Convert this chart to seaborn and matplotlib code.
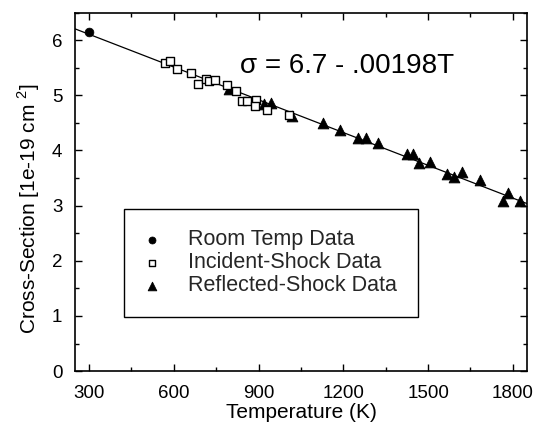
import matplotlib
matplotlib.use("Agg")
import matplotlib.pyplot as plt
import seaborn as sns
import pandas as pd
from matplotlib.ticker import MultipleLocator

# ---- data ----
room_T = [300]
room_sigma = [6.15]

incident_T = [570, 585, 613, 660, 685, 713, 726, 745, 787, 819, 842, 858, 892, 889, 929, 1007]
incident_sigma = [5.58, 5.62, 5.47, 5.41, 5.21, 5.30, 5.25, 5.28, 5.18, 5.07, 4.89, 4.90, 4.92, 4.80, 4.73, 4.64]

reflected_T = [794, 919, 943, 1019, 1128, 1189, 1252, 1282, 1323, 1425, 1448, 1469, 1508,
               1566, 1593, 1621, 1682, 1765, 1782, 1826]
reflected_sigma = [5.12, 4.85, 4.86, 4.62, 4.50, 4.37, 4.22, 4.22, 4.14, 3.93, 3.93, 3.77, 3.79,
                   3.58, 3.51, 3.61, 3.46, 3.09, 3.23, 3.09]

fit_T = [250, 1850]
fit_sigma = [6.205, 3.037]

x_ticks = [300, 600, 900, 1200, 1500, 1800]
y_ticks = [0, 1, 2, 3, 4, 5, 6]

sns.set_theme(style="ticks")
plt.rcParams['font.family'] = ['Liberation Sans', 'DejaVu Sans']
plt.rcParams['mathtext.fontset'] = 'custom'
plt.rcParams['mathtext.rm'] = 'Liberation Sans'

fig = plt.figure(figsize=(5.35, 4.32), dpi=100)
ax = fig.add_axes([0.140, 0.141, 0.845, 0.830])

sns.lineplot(x=fit_T, y=fit_sigma, ax=ax, color='black', linewidth=0.9, zorder=1)
sns.scatterplot(x=room_T, y=room_sigma, ax=ax, marker='o', s=40, color='black',
                edgecolor='black', label='Room Temp Data', zorder=3)
sns.scatterplot(x=incident_T, y=incident_sigma, ax=ax, marker='s', s=38, facecolor='white',
                edgecolor='black', linewidth=1.0, label='Incident-Shock Data', zorder=3)
sns.scatterplot(x=reflected_T, y=reflected_sigma, ax=ax, marker='^', s=60, color='black',
                edgecolor='black', label='Reflected-Shock Data', zorder=2)

ax.set_xlim(250, 1850)
ax.set_ylim(0, 6.5)
ax.set_xticks(x_ticks)
ax.set_yticks(y_ticks)
ax.xaxis.set_minor_locator(MultipleLocator(150))
ax.yaxis.set_minor_locator(MultipleLocator(0.5))
ax.tick_params(which='both', direction='in', top=True, right=True, colors='black',
               labelsize=13.5, width=1.0)
ax.tick_params(axis='x', which='both', pad=10)
ax.tick_params(axis='y', which='both', pad=9)
ax.tick_params(which='major', length=5)
ax.tick_params(which='minor', length=3)
for sp in ax.spines.values():
    sp.set_color('black')
    sp.set_linewidth(1.2)

ax.set_xlabel('Temperature (K)', fontsize=15, color='black', labelpad=1)
ax.set_ylabel('Cross-Section [1e-19 cm $^{2}$]', fontsize=15, color='black')
ax.yaxis.set_label_coords(-0.072, 0.452)

ax.text(0.365, 0.85, 'σ = 6.7 - .00198T', transform=ax.transAxes, fontsize=20,
        color='black', va='center', ha='left')

leg = ax.legend(loc='lower left', bbox_to_anchor=(0.108, 0.151), fontsize=15.5,
                frameon=True, fancybox=False, edgecolor='black', framealpha=1,
                borderaxespad=0, borderpad=0.95, labelspacing=0.1, handlelength=0.7,
                handletextpad=1.35, markerscale=0.8)
leg.get_frame().set_linewidth(1.0)

fig.savefig('out.png', dpi=100)
